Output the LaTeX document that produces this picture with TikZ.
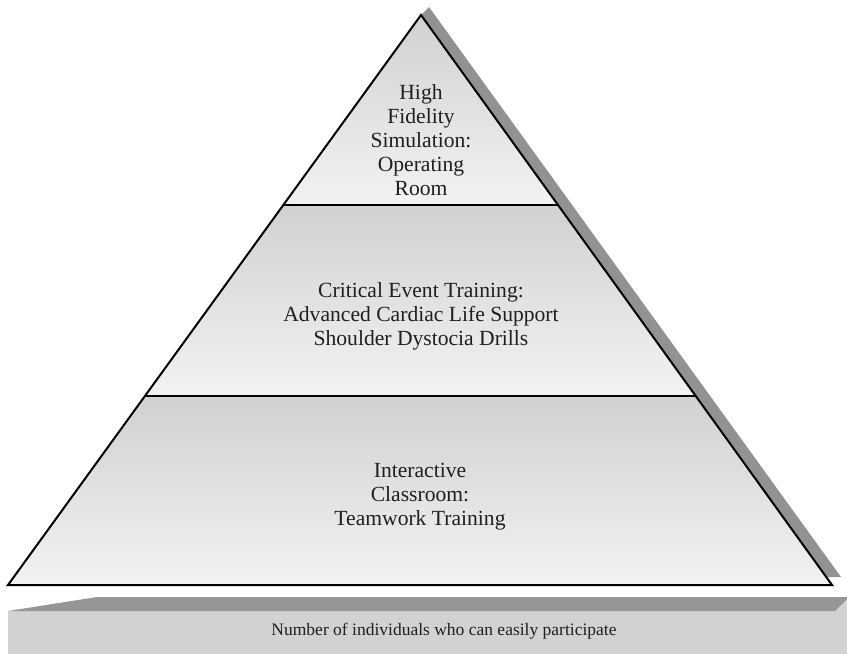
\documentclass[tikz,border=0pt]{standalone}
\usepackage{fontspec}
\setmainfont{Liberation Serif}
\usetikzlibrary{calc}

\definecolor{rimgray}{HTML}{929292}
\definecolor{slabfront}{HTML}{D2D2D2}
\definecolor{slabtop}{HTML}{969696}

\begin{document}
\begin{tikzpicture}[
  x=1pt, y=-1pt,
  tier/.style={top color=gray!36, bottom color=gray!10},
  edge/.style={line width=2pt, line join=miter},
  tiertext/.style={align=center, text=black!88, font=\fontsize{21.6}{24}\selectfont},
  slabtext/.style={text=black!88, font=\fontsize{17.5}{20}\selectfont}]
\useasboundingbox (0,0) rectangle (847,654);

% corners of the pyramid and the two steps
\coordinate (apex) at (421,15);
\coordinate (bl) at (8,585);
\coordinate (br) at (832,585);
\coordinate (l1) at ($(apex)!0.3333!(bl)$);
\coordinate (r1) at ($(apex)!0.3333!(br)$);
\coordinate (l2) at ($(apex)!0.6684!(bl)$);
\coordinate (r2) at ($(apex)!0.6684!(br)$);

% drop shadow along the right side
\fill[rimgray] (apex) -- (429,7) -- (841,577) -- (826,577) -- cycle;

% the three tiers
\shade[tier] (apex) -- (r1) -- (l1) -- cycle;
\shade[tier] (l1) -- (r1) -- (r2) -- (l2) -- cycle;
\shade[tier] (l2) -- (r2) -- (br) -- (bl) -- cycle;
\draw[edge] (apex) -- (br) -- (bl) -- cycle;
\draw[edge, line width=2.4pt] (l1) -- (r1);
\draw[edge, line width=2.4pt] (l2) -- (r2);

\node[tiertext] (hifi) at (421,140) {High\\Fidelity\\Simulation:\\Operating\\Room};
\node[tiertext] (crit) at (421,316) {Critical Event Training:\\Advanced Cardiac Life Support\\Shoulder Dystocia Drills};
\node[tiertext] (room) at (420,497) {Interactive\\Classroom:\\Teamwork Training};

% slab under the pyramid
\fill[slabfront] (8,611) -- (835,611) -- (847,599) -- (847,654) -- (8,654) -- cycle;
\fill[slabtop] (8,611) -- (97,597) -- (847,597) -- (847,599) -- (835,611) -- cycle;
\node[slabtext] (count) at (444,631) {Number of individuals who can easily participate};
\end{tikzpicture}
\end{document}
